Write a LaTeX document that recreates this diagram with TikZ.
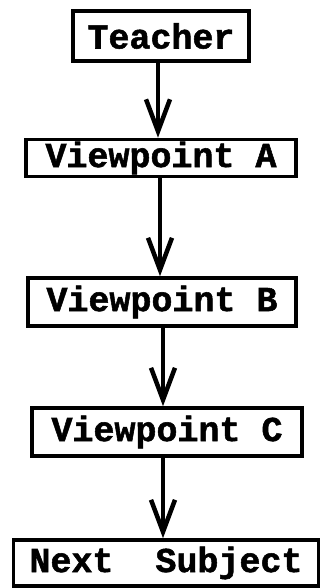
\documentclass[tikz,border=0pt]{standalone}
\usepackage{fontspec}
\setmonofont{Liberation Mono}[BoldFeatures={FakeBold=1.5}]
\usetikzlibrary{arrows.meta}
\tikzset{
  box/.style={draw, line width=3.6pt, inner sep=0pt, font=\ttfamily\bfseries\fontsize{35}{35}\selectfont, anchor=center},
  flow/.style={line width=4pt, -{Straight Barb[length=32pt, width=24pt, line width=4.5pt]}}
}
\begin{document}
\begin{tikzpicture}[x=1pt,y=-1pt]
\useasboundingbox (0,0) rectangle (323,588);
\node[box, minimum width=176pt, minimum height=50pt] (t) at (161,36) {Teacher};
\node[box, minimum width=270pt, minimum height=37pt] (a) at (161,158) {Viewpoint A};
\node[box, minimum width=268pt, minimum height=48pt] (b) at (162,302) {Viewpoint B};
\node[box, minimum width=270pt, minimum height=48pt] (c) at (167,432) {Viewpoint C};
\node[box, minimum width=305pt, minimum height=46pt] (n) at (166,563) {Next\ \ Subject};
\draw[flow] ([xshift=-3pt]t.south) -- ([xshift=-3pt]t.south |- a.north);
\draw[flow] ([xshift=-1pt]a.south) -- ([xshift=-1pt]a.south |- b.north);
\draw[flow] ([xshift=1pt]b.south) -- ([xshift=1pt]b.south |- c.north);
\draw[flow] ([xshift=-4pt]c.south) -- ([xshift=-4pt]c.south |- n.north);
\end{tikzpicture}
\end{document}
